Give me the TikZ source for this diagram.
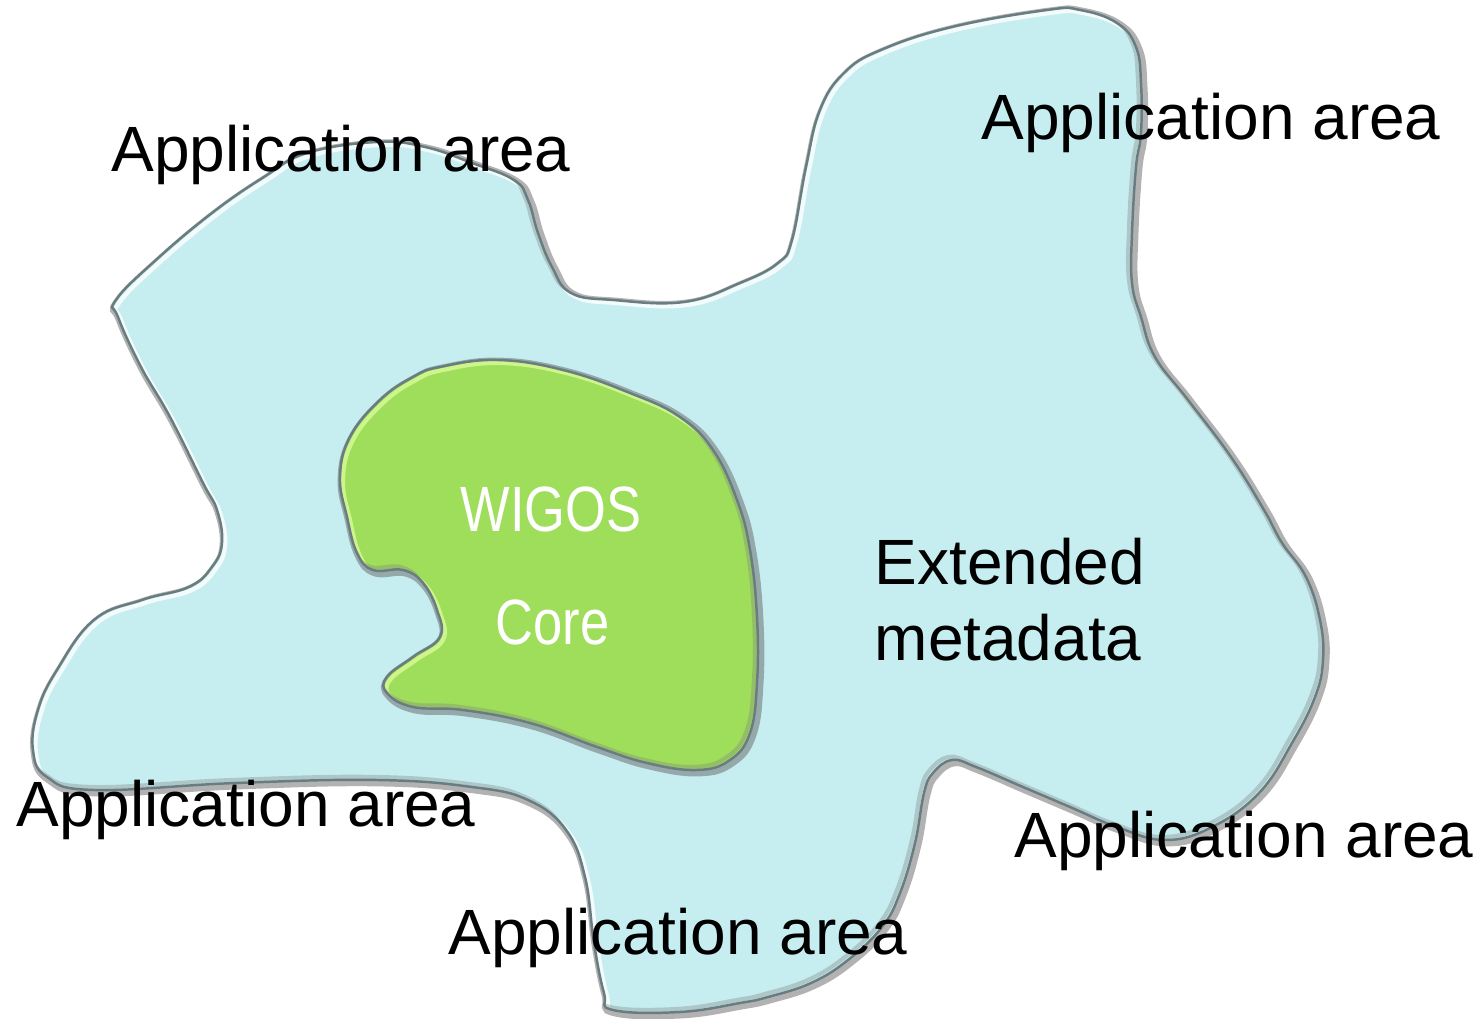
\documentclass[tikz,border=0pt]{standalone}
\usepackage{fontspec}
\setmainfont{Liberation Sans}
\newfontfamily\narrowfont[FakeStretch=0.82]{Liberation Sans}
\usepackage{tikz}
\definecolor{blobblue}{RGB}{198,238,240}
\definecolor{coregreen}{RGB}{158,222,90}
\definecolor{coregreenlight}{RGB}{205,245,140}
\definecolor{rimgray}{RGB}{105,125,128}
\def\bluepath{plot[smooth cycle, tension=0.7] coordinates {(116,300) (156,260) (212,213) (264,177) (307,153) (377,142) (425,147) (472,163) (514,180) (528,200) (538,233) (552,267) (571,293) (613,300) (684,302) (740,283) (778,263) (792,240) (806,167) (820,110) (844,73) (881,50) (952,27) (1047,10) (1080,10) (1117,23) (1136,47) (1141,83) (1141,133) (1136,167) (1132,233) (1132,283) (1141,317) (1155,357) (1188,400) (1231,457) (1264,510) (1282,543) (1306,577) (1320,620) (1323,660) (1315,697) (1292,743) (1259,793) (1212,827) (1165,840) (1117,827) (1070,807) (1023,787) (976,767) (952,760) (933,773) (924,793) (915,843) (900,893) (882,927) (848,960) (811,983) (768,997) (740,1003) (680,1012) (613,1010) (604,993) (594,943) (585,877) (566,830) (528,800) (472,787) (377,780) (236,783) (94,790) (47,777) (33,750) (38,710) (57,670) (94,620) (142,600) (189,587) (212,567) (222,543) (217,510) (203,483) (170,417) (141,367) (118,317)}}
\def\greenpath{plot[smooth cycle, tension=0.7] coordinates {(440,367) (497,360) (563,370) (630,393) (680,417) (713,450) (737,500) (750,550) (757,617) (757,683) (750,733) (730,760) (697,770) (647,763) (597,747) (530,723) (463,710) (413,707) (387,693) (387,677) (413,657) (440,637) (437,610) (423,583) (403,570) (373,570) (357,553) (347,517) (340,477) (350,437) (380,400) (413,377)}}

\begin{document}
\begin{tikzpicture}[x=0.01cm, y=-0.01cm,
		area/.style={font=\fontsize{18.2pt}{21.6pt}\selectfont, anchor=base west, inner sep=0pt},
		corelabel/.style={font=\narrowfont\fontsize{18.2pt}{21.6pt}\selectfont, text=white, anchor=base west, inner sep=0pt}]
			%%%%% START %%%%%
			
			\useasboundingbox[fill=white] (0, 0) rectangle (1478, 1019);
			
			% outer blob: extended metadata
			\draw[line width=2.5pt, color=black!60, opacity=0.5, shift={(2, 2)}] \bluepath;
			\fill[blobblue] \bluepath;
			\begin{scope}
				\clip \bluepath;
				\draw[line width=1.2pt, color=white, opacity=0.8, shift={(3, 3)}] \bluepath;
				\draw[line width=1.2pt, color=black!50, opacity=0.35, shift={(-3, -3)}] \bluepath;
			\end{scope}
			\draw[line width=0.7pt, color=rimgray] \bluepath;
			
			% inner blob: core
			\draw[line width=2.5pt, color=black!60, opacity=0.5, shift={(2, 2)}] \greenpath;
			\fill[coregreen] \greenpath;
			\begin{scope}
				\clip \greenpath;
				\draw[line width=1.2pt, color=coregreenlight, shift={(3, 3)}] \greenpath;
				\draw[line width=1.2pt, color=black!50, opacity=0.35, shift={(-3, -3)}] \greenpath;
			\end{scope}
			\draw[line width=0.7pt, color=rimgray] \greenpath;
			
			\node[corelabel] (wigos) at (460, 532) {WIGOS};
			\node[corelabel] (core) at (495, 645) {Core};
			\node[area, align=left, anchor=north west] (ext) at (874, 537) {Extended\\metadata};
			
			\node[area] (apptl) at (111, 172) {Application area};
			\node[area] (apptr) at (981, 140) {Application area};
			\node[area] (appbl) at (16, 827) {Application area};
			\node[area] (appbr) at (1014, 858) {Application area};
			\node[area] (appbot) at (448, 955) {Application area};
			
			%%%%% END %%%%%
		\end{tikzpicture}
\end{document}
